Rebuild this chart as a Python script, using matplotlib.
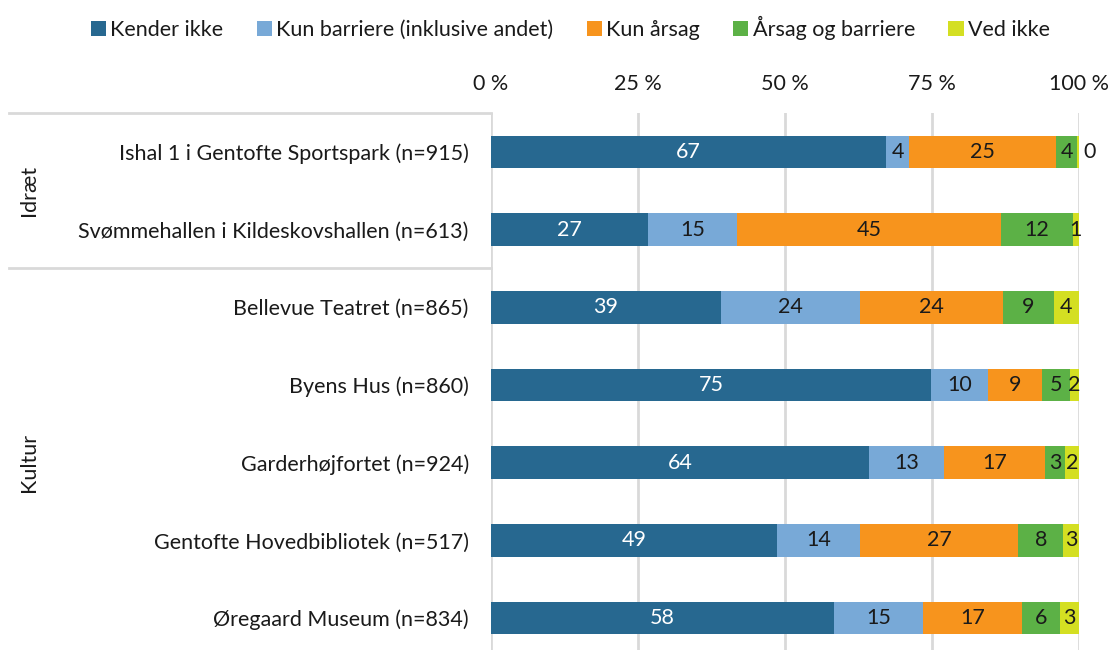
import matplotlib
matplotlib.use("Agg")
import matplotlib.pyplot as plt
import numpy as np

plt.rcParams['font.family'] = ['Lato', 'DejaVu Sans']

venues = ["Ishal 1 i Gentofte Sportspark (n=915)",
          "Svømmehallen i Kildeskovshallen (n=613)",
          "Bellevue Teatret (n=865)",
          "Byens Hus (n=860)",
          "Garderhøjfortet (n=924)",
          "Gentofte Hovedbibliotek (n=517)",
          "Øregaard Museum (n=834)"]
groups = ["Idræt", "Kultur"]
group_sizes = [2, 5]

series = ["Kender ikke", "Kun barriere (inklusive andet)", "Kun årsag",
          "Årsag og barriere", "Ved ikke"]
kender_ikke = [67.2, 26.7, 39.1, 74.8, 64.3, 48.7, 58.3]
kun_barriere = [3.9, 15.1, 23.6, 9.7, 12.8, 14.1, 15.2]
kun_aarsag = [25.0, 45.0, 24.4, 9.2, 17.1, 26.9, 16.8]
aarsag_barriere = [3.6, 12.1, 8.6, 4.8, 3.4, 7.6, 6.4]
ved_ikke = [0.3, 1.1, 4.3, 1.5, 2.4, 2.7, 3.3]

colors = ['#276890', '#78A9D7', '#F7941D', '#5CB146', '#D4DF22']
xticks = [0, 25, 50, 75, 100]

data = np.array([kender_ikke, kun_barriere, kun_aarsag, aarsag_barriere, ved_ikke])

FS = 15.5
TXT = '#1a1a1a'

fig = plt.figure(figsize=(11.12, 6.5), dpi=100)
ax = fig.add_axes([491 / 1112, 0, 588 / 1112, 537 / 650])

y = np.arange(len(venues))
left = np.zeros(len(venues))
for i, (name, vals, col) in enumerate(zip(series, data, colors)):
    ax.barh(y, vals, left=left, height=0.42, color=col, label=name, zorder=3)
    for j, v in enumerate(vals):
        txt = str(int(v + 0.5))
        tc = 'white' if i == 0 else TXT
        if v < 0.5:
            ax.text(left[j] + v + 0.8, y[j], txt, ha='left', va='center',
                    fontsize=FS, color=tc, zorder=4)
        else:
            ax.text(left[j] + v / 2, y[j], txt, ha='center', va='center',
                    fontsize=FS, color=tc, zorder=4)
    left += vals

ax.set_xlim(0, 100)
ax.set_ylim(6.41, -0.5)
ax.xaxis.tick_top()
ax.set_xticks(xticks)
ax.set_xticklabels([f"{t} %" for t in xticks], fontsize=FS, color=TXT)
ax.tick_params(axis='x', length=0, pad=14)
ax.set_yticks(y)
ax.set_yticklabels(venues, fontsize=FS, color=TXT)
ax.tick_params(axis='y', length=0, pad=16)
ax.grid(axis='x', color='#d9d9d9', linewidth=2, zorder=0)
for s in ax.spines.values():
    s.set_visible(False)

# group separators and labels
start = 0
sep_y = [-0.5]
for g, n in zip(groups, group_sizes):
    mid = start + (n - 1) / 2
    ax.text(-78.5, mid, g, rotation=90, ha='center', va='center',
            fontsize=FS, color=TXT, clip_on=False)
    start += n
    sep_y.append(start - 0.5)
for sy in sep_y[:-1]:
    ax.plot([-82, 0], [sy, sy], color='#d9d9d9', linewidth=2,
            clip_on=False, zorder=0)

handles, labels = ax.get_legend_handles_labels()
fig.legend(handles, labels, loc='center', bbox_to_anchor=(0.513, 0.957), ncol=5,
           frameon=False, fontsize=FS, handlelength=0.7, handleheight=0.7,
           handletextpad=0.2, columnspacing=1.55, labelcolor=TXT)

fig.savefig("out.png", dpi=100)
